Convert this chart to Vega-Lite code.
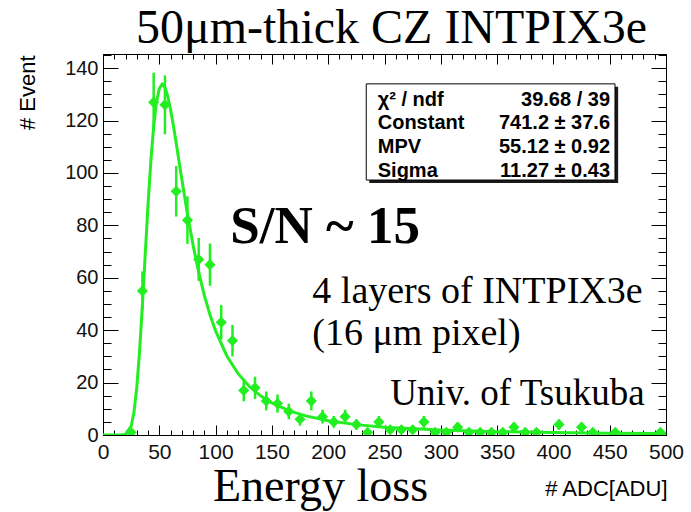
{
  "$schema": "https://vega.github.io/schema/vega-lite/v6.json",
  "width": 563,
  "height": 381,
  "autosize": {"type": "none"},
  "padding": {"left": 103, "top": 54, "right": 25, "bottom": 77},
  "background": "white",
  "config": {
    "view": {"stroke": "black", "strokeWidth": 1},
    "axis": {"domain": false, "grid": false, "tickColor": "black", "tickWidth": 1, "labelFont": "Liberation Sans", "labelFontSize": 20, "labelColor": "#111111", "titleFont": "Liberation Sans", "titleFontWeight": "normal", "titleColor": "black", "labelFlush": false, "labelOverlap": false, "labelBound": false},
    "text": {"font": "Liberation Serif", "color": "black"}
  },
  "title": {"text": "50μm-thick CZ INTPIX3e", "font": "Liberation Serif", "fontSize": 48, "fontWeight": "normal", "color": "black", "anchor": "middle", "frame": "group", "dx": 7, "offset": 1},
  "datasets": {
    "hist": [
      {"adc": 25, "n": 1, "lo": 0, "hi": 2},
      {"adc": 35, "n": 55, "lo": 47.58, "hi": 62.42},
      {"adc": 45, "n": 127, "lo": 115.73, "hi": 138.27},
      {"adc": 55, "n": 126, "lo": 114.78, "hi": 137.22},
      {"adc": 65, "n": 93, "lo": 83.36, "hi": 102.64},
      {"adc": 75, "n": 82, "lo": 72.94, "hi": 91.06},
      {"adc": 85, "n": 67, "lo": 58.81, "hi": 75.19},
      {"adc": 95, "n": 65, "lo": 56.94, "hi": 73.06},
      {"adc": 105, "n": 43, "lo": 36.44, "hi": 49.56},
      {"adc": 115, "n": 36, "lo": 30, "hi": 42},
      {"adc": 125, "n": 17, "lo": 12.88, "hi": 21.12},
      {"adc": 135, "n": 18, "lo": 13.76, "hi": 22.24},
      {"adc": 145, "n": 13, "lo": 9.39, "hi": 16.61},
      {"adc": 155, "n": 12, "lo": 8.54, "hi": 15.46},
      {"adc": 165, "n": 9, "lo": 6, "hi": 12},
      {"adc": 175, "n": 6, "lo": 3.55, "hi": 8.45},
      {"adc": 185, "n": 13, "lo": 9.39, "hi": 16.61},
      {"adc": 195, "n": 7, "lo": 4.35, "hi": 9.65},
      {"adc": 205, "n": 5, "lo": 2.76, "hi": 7.24},
      {"adc": 215, "n": 7, "lo": 4.35, "hi": 9.65},
      {"adc": 225, "n": 4, "lo": 2, "hi": 6},
      {"adc": 235, "n": 1, "lo": 0, "hi": 2},
      {"adc": 245, "n": 5, "lo": 2.76, "hi": 7.24},
      {"adc": 255, "n": 2, "lo": 0.59, "hi": 3.41},
      {"adc": 265, "n": 2, "lo": 0.59, "hi": 3.41},
      {"adc": 275, "n": 2, "lo": 0.59, "hi": 3.41},
      {"adc": 285, "n": 5, "lo": 2.76, "hi": 7.24},
      {"adc": 295, "n": 1, "lo": 0, "hi": 2},
      {"adc": 305, "n": 1, "lo": 0, "hi": 2},
      {"adc": 315, "n": 3, "lo": 1.27, "hi": 4.73},
      {"adc": 325, "n": 1, "lo": 0, "hi": 2},
      {"adc": 335, "n": 1, "lo": 0, "hi": 2},
      {"adc": 345, "n": 1, "lo": 0, "hi": 2},
      {"adc": 355, "n": 1, "lo": 0, "hi": 2},
      {"adc": 365, "n": 3, "lo": 1.27, "hi": 4.73},
      {"adc": 375, "n": 1, "lo": 0, "hi": 2},
      {"adc": 385, "n": 1, "lo": 0, "hi": 2},
      {"adc": 405, "n": 4, "lo": 2, "hi": 6},
      {"adc": 425, "n": 3, "lo": 1.27, "hi": 4.73},
      {"adc": 435, "n": 1, "lo": 0, "hi": 2},
      {"adc": 455, "n": 1, "lo": 0, "hi": 2},
      {"adc": 495, "n": 1, "lo": 0, "hi": 2}
    ],
    "fit": [
      {"adc": 0, "f": 0},
      {"adc": 10, "f": 0},
      {"adc": 15, "f": 0.003},
      {"adc": 20, "f": 0.21},
      {"adc": 25, "f": 3.35},
      {"adc": 27.5, "f": 8.65},
      {"adc": 30, "f": 18.12},
      {"adc": 32.5, "f": 32.09},
      {"adc": 35, "f": 49.65},
      {"adc": 37.5, "f": 68.99},
      {"adc": 40, "f": 87.91},
      {"adc": 42.5, "f": 104.6},
      {"adc": 45, "f": 117.8},
      {"adc": 47.5, "f": 126.99},
      {"adc": 50, "f": 132.21},
      {"adc": 52.5, "f": 133.9},
      {"adc": 55, "f": 132.69},
      {"adc": 57.5, "f": 129.25},
      {"adc": 60, "f": 124.22},
      {"adc": 62.5, "f": 118.14},
      {"adc": 65, "f": 111.47},
      {"adc": 70, "f": 97.59},
      {"adc": 75, "f": 84.3},
      {"adc": 80, "f": 72.38},
      {"adc": 85, "f": 62.05},
      {"adc": 90, "f": 53.28},
      {"adc": 95, "f": 45.9},
      {"adc": 100, "f": 39.72},
      {"adc": 110, "f": 30.17},
      {"adc": 120, "f": 23.4},
      {"adc": 130, "f": 18.52},
      {"adc": 140, "f": 14.93},
      {"adc": 150, "f": 12.23},
      {"adc": 165, "f": 9.31},
      {"adc": 180, "f": 7.29},
      {"adc": 200, "f": 5.45},
      {"adc": 225, "f": 3.96},
      {"adc": 250, "f": 3.0},
      {"adc": 300, "f": 1.88},
      {"adc": 350, "f": 1.28},
      {"adc": 400, "f": 0.92},
      {"adc": 450, "f": 0.7},
      {"adc": 500, "f": 0.54}
    ]
  },
  "layer": [
    {
      "data": {"name": "hist"},
      "mark": {"type": "rule", "color": "#22ee22", "strokeWidth": 2.5, "clip": true},
      "encoding": {
        "x": {"field": "adc", "type": "quantitative", "scale": {"domain": [0, 500], "nice": false, "zero": false},
              "axis": {"orient": "bottom", "values": [0,10,20,30,40,50,60,70,80,90,100,110,120,130,140,150,160,170,180,190,200,210,220,230,240,250,260,270,280,290,300,310,320,330,340,350,360,370,380,390,400,410,420,430,440,450,460,470,480,490,500], "tickSize": -5, "labels": false, "title": "# ADC[ADU]", "titleFontSize": 22, "titleX": 564, "titleY": 60, "titleAlign": "right", "titleBaseline": "alphabetic"}},
        "y": {"field": "lo", "type": "quantitative", "scale": {"domain": [0, 145.4], "nice": false, "zero": false},
              "axis": {"orient": "left", "values": [0,5,10,15,20,25,30,35,40,45,50,55,60,65,70,75,80,85,90,95,100,105,110,115,120,125,130,135,140,145], "tickSize": -8, "labels": false, "title": null}},
        "y2": {"field": "hi"}
      }
    },
    {
      "data": {"name": "hist"},
      "mark": {"type": "point", "shape": "diamond", "filled": true, "size": 125, "opacity": 1, "color": "#22ee22", "clip": true},
      "encoding": {
        "x": {"field": "adc", "type": "quantitative", "scale": {"domain": [0, 500], "nice": false, "zero": false},
              "axis": {"orient": "bottom", "values": [0,50,100,150,200,250,300,350,400,450,500], "tickSize": -10, "labelPadding": 16, "labelFontSize": 21, "title": "Energy loss", "titleFont": "Liberation Serif", "titleFontSize": 46, "titleX": 217, "titleY": 65, "titleAlign": "center", "titleBaseline": "alphabetic"}},
        "y": {"field": "n", "type": "quantitative", "scale": {"domain": [0, 145.4], "nice": false, "zero": false},
              "axis": {"orient": "left", "values": [0,20,40,60,80,100,120,140], "tickSize": -15, "labelPadding": 20, "title": "# Event", "titleFontSize": 22, "titleAngle": -90, "titleX": -69, "titleY": 1, "titleAlign": "right", "titleBaseline": "alphabetic"}}
      }
    },
    {
      "data": {"name": "fit"},
      "mark": {"type": "line", "color": "#22ee22", "strokeWidth": 3, "clip": true},
      "encoding": {
        "x": {"field": "adc", "type": "quantitative", "scale": {"domain": [0, 500], "nice": false, "zero": false},
              "axis": {"orient": "top", "values": [0,50,100,150,200,250,300,350,400,450,500], "tickSize": -10, "labels": false, "title": null}},
        "y": {"field": "f", "type": "quantitative", "scale": {"domain": [0, 145.4], "nice": false, "zero": false},
              "axis": {"orient": "right", "values": [0,20,40,60,80,100,120,140], "tickSize": -15, "labels": false, "title": null}}
      }
    },
    {
      "data": {"values": [{}]},
      "mark": {"type": "rect", "color": "#1a1a1a"},
      "encoding": {
        "x": {"datum": 236.5, "type": "quantitative",
              "axis": {"orient": "top", "values": [0,10,20,30,40,50,60,70,80,90,100,110,120,130,140,150,160,170,180,190,200,210,220,230,240,250,260,270,280,290,300,310,320,330,340,350,360,370,380,390,400,410,420,430,440,450,460,470,480,490,500], "tickSize": -5, "labels": false, "title": null}},
        "x2": {"datum": 457.5},
        "y": {"datum": 96.2, "type": "quantitative",
              "axis": {"orient": "right", "values": [0,5,10,15,20,25,30,35,40,45,50,55,60,65,70,75,80,85,90,95,100,105,110,115,120,125,130,135,140,145], "tickSize": -8, "labels": false, "title": null}},
        "y2": {"datum": 132.9}
      }
    },
    {
      "data": {"values": [{}]},
      "mark": {"type": "rect", "fill": "white", "stroke": "black", "strokeWidth": 1},
      "encoding": {
        "x": {"datum": 233.8, "type": "quantitative", "axis": null},
        "x2": {"datum": 454.7},
        "y": {"datum": 97.3, "type": "quantitative", "axis": null},
        "y2": {"datum": 134.0}
      }
    },
    {
      "data": {"values": [{}]},
      "mark": {"type": "text", "text": ["χ² / ndf", "Constant", "MPV", "Sigma"], "font": "Liberation Sans", "fontWeight": "bold", "fontSize": 20, "lineHeight": 23.8, "align": "left", "baseline": "alphabetic"},
      "encoding": {
        "x": {"datum": 244.0, "type": "quantitative", "axis": null},
        "y": {"datum": 125.7, "type": "quantitative", "axis": null}
      }
    },
    {
      "data": {"values": [{}]},
      "mark": {"type": "text", "text": ["39.68 / 39", "741.2 ± 37.6", "55.12 ± 0.92", "11.27 ± 0.43"], "font": "Liberation Sans", "fontWeight": "bold", "fontSize": 20, "lineHeight": 23.8, "align": "right", "baseline": "alphabetic"},
      "encoding": {
        "x": {"datum": 450.3, "type": "quantitative", "axis": null},
        "y": {"datum": 125.7, "type": "quantitative", "axis": null}
      }
    },
    {
      "data": {"values": [{}]},
      "mark": {"type": "text", "text": "S/N ~ 15", "font": "Liberation Serif", "fontWeight": "bold", "fontSize": 53, "align": "left", "baseline": "alphabetic"},
      "encoding": {
        "x": {"datum": 113.1, "type": "quantitative", "axis": null},
        "y": {"datum": 73.3, "type": "quantitative", "axis": null}
      }
    },
    {
      "data": {"values": [{}]},
      "mark": {"type": "text", "text": "4 layers of INTPIX3e", "font": "Liberation Serif", "fontSize": 38, "align": "left", "baseline": "alphabetic"},
      "encoding": {
        "x": {"datum": 185.9, "type": "quantitative", "axis": null},
        "y": {"datum": 50.3, "type": "quantitative", "axis": null}
      }
    },
    {
      "data": {"values": [{}]},
      "mark": {"type": "text", "text": "(16 μm pixel)", "font": "Liberation Serif", "fontSize": 38, "align": "left", "baseline": "alphabetic"},
      "encoding": {
        "x": {"datum": 185.9, "type": "quantitative", "axis": null},
        "y": {"datum": 34.35, "type": "quantitative", "axis": null}
      }
    },
    {
      "data": {"values": [{}]},
      "mark": {"type": "text", "text": "Univ. of Tsukuba", "font": "Liberation Serif", "fontSize": 37, "align": "left", "baseline": "alphabetic"},
      "encoding": {
        "x": {"datum": 255.1, "type": "quantitative", "axis": null},
        "y": {"datum": 11.45, "type": "quantitative", "axis": null}
      }
    }
  ],
  "resolve": {"axis": {"x": "independent", "y": "independent"}}
}
